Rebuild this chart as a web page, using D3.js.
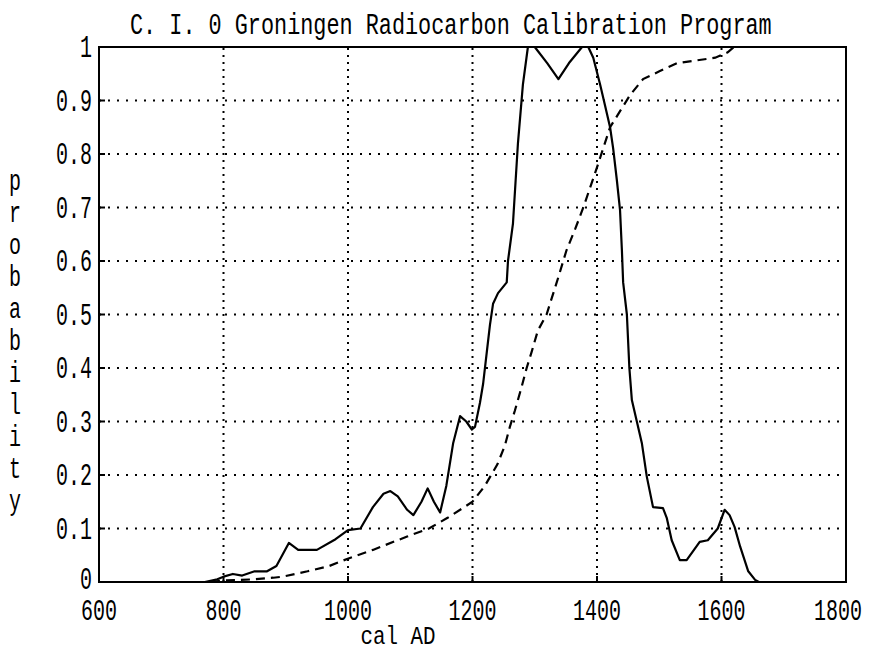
<!DOCTYPE html>
<html><head><meta charset="utf-8">
<script src="https://cdn.jsdelivr.net/npm/d3@7"></script>
<style>html,body{margin:0;padding:0;background:#fff;} svg{display:block;}</style>
</head><body><svg id="c" width="871" height="652"></svg>
<script>
const title = "C. I. 0 Groningen Radiocarbon Calibration Program";
const xLabel = "cal AD";
const yLabel = "probability";
const xTicks = [600, 800, 1000, 1200, 1400, 1600, 1800];
const xTickLabels = ["600", "800", "1000", "1200", "1400", "1600", "1800"];
const yTicks = [0, 0.1, 0.2, 0.3, 0.4, 0.5, 0.6, 0.7, 0.8, 0.9, 1];
const yTickLabels = ["0", "0.1", "0.2", "0.3", "0.4", "0.5", "0.6", "0.7", "0.8", "0.9", "1"];

// probability distribution (solid)
const densityYears = [770, 790, 800, 815, 830, 850, 870, 885, 905, 920, 950, 980, 1000, 1020, 1040, 1057, 1068, 1080, 1095, 1105, 1118, 1128, 1138, 1148, 1158, 1169, 1180, 1190, 1199, 1204, 1212, 1217, 1223, 1228, 1233, 1241, 1255, 1257, 1265, 1273, 1281, 1289, 1300, 1320, 1338, 1355, 1376, 1386, 1394, 1405, 1413, 1421, 1426, 1432, 1437, 1440, 1442, 1448, 1452, 1456, 1464, 1472, 1480, 1490, 1506, 1512, 1520, 1533, 1544, 1565, 1578, 1594, 1605, 1613, 1621, 1630, 1643, 1654, 1660];
const densityProb = [0, 0.005, 0.01, 0.015, 0.012, 0.02, 0.02, 0.03, 0.073, 0.06, 0.06, 0.08, 0.097, 0.10, 0.14, 0.165, 0.17, 0.16, 0.135, 0.125, 0.15, 0.175, 0.15, 0.13, 0.18, 0.26, 0.31, 0.30, 0.285, 0.29, 0.335, 0.37, 0.43, 0.48, 0.52, 0.54, 0.56, 0.6, 0.67, 0.82, 0.93, 1.0, 1.0, 0.97, 0.94, 0.97, 1.0, 1.0, 0.98, 0.93, 0.89, 0.85, 0.81, 0.75, 0.695, 0.62, 0.56, 0.5, 0.4, 0.34, 0.30, 0.26, 0.197, 0.14, 0.138, 0.12, 0.078, 0.041, 0.041, 0.075, 0.078, 0.10, 0.135, 0.125, 0.103, 0.066, 0.02, 0.004, 0];

// cumulative probability (dashed)
const cumulativeYears = [780, 800, 850, 880, 895, 935, 970, 1003, 1040, 1095, 1130, 1160, 1200, 1220, 1240, 1252, 1260, 1268, 1279, 1287, 1295, 1305, 1319, 1338, 1351, 1365, 1378, 1400, 1421, 1437, 1453, 1474, 1501, 1529, 1560, 1590, 1610, 1620];
const cumulativeProb = [0, 0.003, 0.005, 0.008, 0.01, 0.02, 0.03, 0.045, 0.06, 0.085, 0.10, 0.12, 0.15, 0.18, 0.22, 0.255, 0.29, 0.32, 0.365, 0.40, 0.43, 0.47, 0.50, 0.57, 0.62, 0.66, 0.70, 0.775, 0.85, 0.88, 0.91, 0.94, 0.955, 0.97, 0.975, 0.98, 0.99, 1.0];

const FONT = "'Liberation Mono', 'DejaVu Sans Mono', monospace";
const PITCH = 12;
const svg = d3.select("#c");
const x = d3.scaleLinear().domain([600, 1800]).range([99, 846]);
const y = d3.scaleLinear().domain([0, 1]).range([582, 47]);

// condensed monospace text: glyph advance 0.6em squeezed horizontally to `pitch`
function label(g, txt, px, py, anchor, size, pitch) {
  const sx = pitch / (0.6 * size);
  return g.append("text")
    .attr("transform", `translate(${px},${py}) scale(${sx},1)`)
    .attr("text-anchor", anchor)
    .attr("font-family", FONT).attr("font-size", size)
    .attr("fill", "#000").text(txt);
}

// grid
const grid = svg.append("g");
grid.selectAll("line.h").data(yTicks.filter(d => d > 0 && d < 1)).enter().append("line")
  .attr("x1", x(600)).attr("x2", x(1800)).attr("y1", d => y(d)).attr("y2", d => y(d))
  .attr("stroke", "#000").attr("stroke-width", 2).attr("stroke-dasharray", "2,7");
grid.selectAll("line.v").data(xTicks.filter(d => d > 600 && d < 1800)).enter().append("line")
  .attr("x1", d => x(d)).attr("x2", d => x(d)).attr("y1", y(0)).attr("y2", y(1))
  .attr("stroke", "#000").attr("stroke-width", 2).attr("stroke-dasharray", "2,5");
// small ticks
grid.selectAll("line.ty").data(yTicks.filter(d => d > 0 && d < 1)).enter().append("line")
  .attr("x1", x(600)).attr("x2", x(600) + 6).attr("y1", d => y(d)).attr("y2", d => y(d))
  .attr("stroke", "#000").attr("stroke-width", 2);
grid.selectAll("line.tx").data(xTicks.filter(d => d > 600 && d < 1800)).enter().append("line")
  .attr("x1", d => x(d)).attr("x2", d => x(d)).attr("y1", y(0)).attr("y2", y(0) - 6)
  .attr("stroke", "#000").attr("stroke-width", 2);

// frame
svg.append("rect").attr("x", x(600)).attr("y", y(1))
  .attr("width", x(1800) - x(600)).attr("height", y(0) - y(1))
  .attr("fill", "none").attr("stroke", "#000").attr("stroke-width", 2);

// curves
const line = d3.line().x(d => x(d[0])).y(d => y(d[1]));
svg.append("path").datum(densityYears.map((v, i) => [v, densityProb[i]]))
  .attr("d", line).attr("fill", "none").attr("stroke", "#000").attr("stroke-width", 2.2)
  .attr("stroke-linejoin", "round");
svg.append("path").datum(cumulativeYears.map((v, i) => [v, cumulativeProb[i]]))
  .attr("d", line).attr("fill", "none").attr("stroke", "#000").attr("stroke-width", 2.2)
  .attr("stroke-dasharray", "9,6");

// tick labels
const tl = svg.append("g");
yTicks.forEach((t, i) => {
  label(tl, yTickLabels[i], 92, y(t) + (t === 0 ? 7 : 10), "end", 31, PITCH);
});
xTicks.forEach((t, i) => {
  let cx = x(t);
  const w = xTickLabels[i].length * PITCH;
  if (cx + w / 2 > 862) cx = 862 - w / 2;
  label(tl, xTickLabels[i], cx, 620, "middle", 30, PITCH);
});

// titles
label(svg, title, 130, 34, "start", 29, 13.1);
label(svg, xLabel, 398, 644, "middle", 25, 12.5);
yLabel.split("").forEach((ch, i) => {
  label(svg, ch, 15, 190 + i * 32, "middle", 29, 12);
});
</script></body></html>
